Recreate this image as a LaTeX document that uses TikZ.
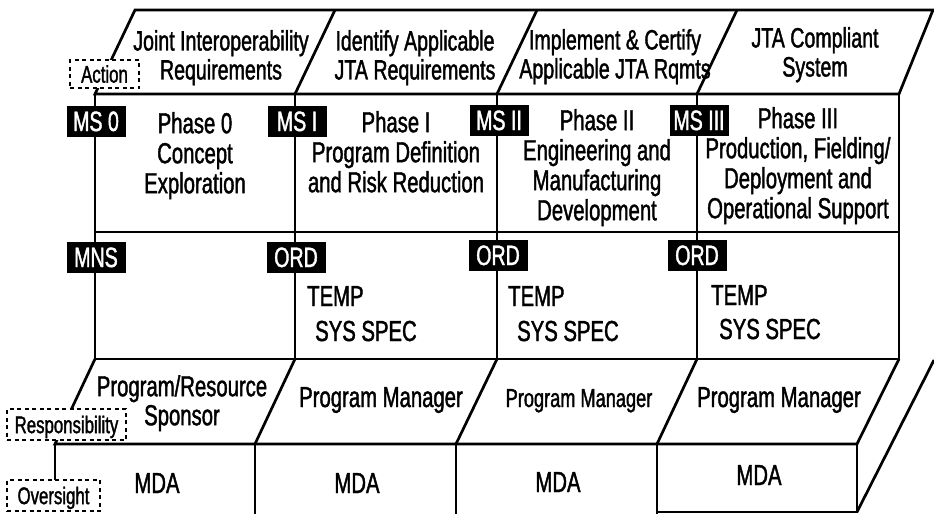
\documentclass[tikz,border=0pt]{standalone}
\usepackage{fontspec}
\setmainfont[FakeStretch=0.7,FakeBold=1.4]{Liberation Sans}
\begin{document}
\begin{tikzpicture}[x=1pt,y=-1pt,
  ln/.style={line width=2.7pt},
  txt/.style={font=\fontsize{29}{30}\selectfont, align=center, inner sep=0pt},
  toptxt/.style={font=\fontsize{28}{29}\selectfont, align=center, inner sep=0pt, anchor=north},
  phtxt/.style={txt, anchor=north},
  mslabel/.style={fill=black, text=white, minimum width=59pt, minimum height=31pt, inner sep=0pt,
    text height=20pt, text depth=0pt, font=\fontsize{28}{28}\selectfont},
  sidetag/.style={draw, dash pattern=on 4pt off 3.5pt, line width=1.4pt, fill=white, inner sep=0pt,
    text height=17.2pt, text depth=0pt, font=\fontsize{24}{24}\selectfont}
]
\useasboundingbox (0,0) rectangle (934,514);
% ---- top (Action) band
\draw[ln] (95,94) -- (135,10) -- (933,10) -- (899,94) -- cycle;
\draw[ln] (295,94) -- (335,10);
\draw[ln] (497,94) -- (537,10);
\draw[ln] (697,94) -- (737,10);
% ---- phase / document box
\draw[ln] (95,94) rectangle (899,359);
\draw[ln] (95,232) -- (899,232);
\draw[ln] (295,94) -- (295,359);
\draw[ln] (497,94) -- (497,359);
\draw[ln] (697,94) -- (697,359);
% ---- responsibility band
\draw[ln] (95,359) -- (55,444) -- (857,444) -- (899,359);
\draw[ln] (295,359) -- (255,444);
\draw[ln] (497,359) -- (456,444);
\draw[ln] (697,359) -- (657,444);
% ---- oversight row
\draw[ln] (55,444) -- (55,490);
\draw[ln] (255,444) -- (255,514);
\draw[ln] (456,444) -- (456,514);
\draw[ln] (657,444) -- (657,514);
\draw[ln] (657,512) -- (857,512) -- (857,444);
\draw[ln] (857,512) -- (934,360);

% ---- texts, top band
\node[toptxt] (a1) at (221,30) {Joint Interoperability\\Requirements};
\node[toptxt] (a2) at (415,30) {Identify Applicable\\JTA Requirements};
\node[toptxt] (a3) at (615,29) {Implement \& Certify\\Applicable JTA Rqmts};
\node[toptxt] (a4) at (815,27) {JTA Compliant\\System};

% ---- phases
\node[phtxt] (p0) at (195,112) {Phase 0\\Concept\\Exploration};
\node[phtxt] (p1) at (396,111) {Phase I\\Program Definition\\and Risk Reduction};
\node[phtxt] (p2) at (597,109) {Phase II\\Engineering and\\Manufacturing\\Development};
\node[phtxt] (p3) at (798,107) {Phase III\\Production, Fielding/\\Deployment and\\Operational Support};

% ---- documents
\node[txt, anchor=base west] (t2) at (307,306) {TEMP};
\node[txt, anchor=base west] (s2) at (315,341) {SYS SPEC};
\node[txt, anchor=base west] (t3) at (508,306) {TEMP};
\node[txt, anchor=base west] (s3) at (517,341) {SYS SPEC};
\node[txt, anchor=base west] (t4) at (711,305) {TEMP};
\node[txt, anchor=base west] (s4) at (719,339) {SYS SPEC};

% ---- responsibility
\node[txt, anchor=north, font=\fontsize{29}{29}\selectfont] (r1) at (182,375) {Program/Resource\\Sponsor};
\node[txt, anchor=base] (r2) at (381,407) {Program Manager};
\node[txt, anchor=base, font=\fontsize{26}{26}\selectfont] (r3) at (579,407) {Program Manager};
\node[txt, anchor=base] (r4) at (779,407) {Program Manager};

% ---- oversight
\node[txt, anchor=base] (m1) at (157,493) {MDA};
\node[txt, anchor=base] (m2) at (357,493) {MDA};
\node[txt, anchor=base] (m3) at (558,492) {MDA};
\node[txt, anchor=base] (m4) at (759,485) {MDA};

% ---- milestone / document labels
\node[mslabel] (ms0) at (96,121) {MS 0};
\node[mslabel] (ms1) at (297,121) {MS I};
\node[mslabel] (ms2) at (499,120) {MS II};
\node[mslabel] (ms3) at (699,120) {MS III};
\node[mslabel] (mns) at (96,257) {MNS};
\node[mslabel] (ord1) at (296,257) {ORD};
\node[mslabel] (ord2) at (498,255) {ORD};
\node[mslabel] (ord3) at (697,255) {ORD};

% ---- side tags
\node[sidetag, minimum width=69pt, minimum height=28pt] (act) at (104.5,74) {Action};
\node[sidetag, minimum width=119pt, minimum height=31pt] (resp) at (66.5,424.5) {Responsibility};
\node[sidetag, minimum width=93pt, minimum height=31pt] (ovs) at (53.5,495.5) {Oversight};
\end{tikzpicture}
\end{document}
